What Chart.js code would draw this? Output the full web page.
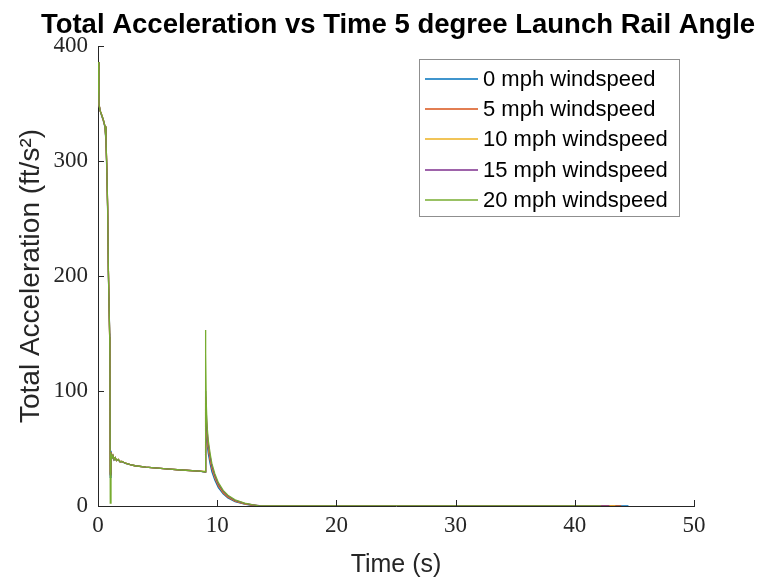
<!DOCTYPE html>
<html>
<head>
<meta charset="utf-8">
<title>Total Acceleration vs Time</title>
<script src="https://cdn.jsdelivr.net/npm/chart.js@4.4.0/dist/chart.umd.min.js"></script>
<style>
  html, body { margin: 0; padding: 0; background: #fff; }
  #accelChart { display: block; }
</style>
</head>
<body>
<canvas id="accelChart" width="765" height="580"></canvas>
<script>
// Flight data, one run per windspeed (time in s, acceleration in ft/s^2)
const chartTitle = 'Total Acceleration vs Time 5 degree Launch Rail Angle';
const seriesLabels = ['0 mph windspeed', '5 mph windspeed', '10 mph windspeed', '15 mph windspeed', '20 mph windspeed'];
const seriesColors = ['#0072BD', '#D95319', '#EDB120', '#7E2F8E', '#77AC30'];

// motor burn + coast, same sample times for every run
const burnTime = [0, 0.08, 0.17, 0.31, 0.45, 0.59, 0.67, 0.73, 0.81, 0.87, 0.98, 1.0, 1.03, 1.09, 1.15, 1.25, 1.35, 1.45, 1.55, 1.7, 1.85, 2.0, 2.3, 2.7, 3.1, 4.0, 5.0, 6.0, 7.0, 8.5];
const burnAccel0  = [386, 350, 344, 339, 335, 329, 316, 295, 256, 203, 150, 126, 25, 48, 41, 43.5, 40, 41.5, 39.5, 40, 38.5, 38.6, 37.1, 36, 35, 33.8, 32.9, 32.1, 31.3, 30.3];
const burnAccel5  = [386, 350, 344, 340, 335, 330, 317, 297, 258, 207, 146, 138, 28, 47, 41.5, 44, 40.5, 41.8, 39.5, 40.3, 38.5, 38.7, 37.2, 36, 35, 33.8, 32.9, 32.1, 31.3, 30.4];
const burnAccel10 = [386, 350, 344, 340, 336, 330, 318, 298, 259, 205, 147, 130, 30, 46, 41.5, 44, 40.5, 42, 39.5, 40.5, 38.5, 38.8, 37.2, 36, 35, 33.8, 32.9, 32.1, 31.3, 30.4];
const burnAccel15 = [386, 350, 344, 340, 336, 330, 318, 298, 260, 205, 147, 128, 27, 46, 41.5, 44, 40.5, 42, 39.5, 40.5, 38.5, 38.8, 37.2, 36, 35, 33.8, 32.9, 32.1, 31.3, 30.4];
const burnAccel20 = [386, 350, 344, 340, 336, 330, 318, 298, 260, 205, 147, 127, 2.6, 46, 41.5, 44, 40.5, 42, 39.5, 40.5, 38.5, 38.8, 37.2, 36, 35, 33.8, 32.9, 32.1, 31.3, 30.4];

// deployment spike and decay, per run
const spikeTime0  = [9.0, 9.03, 9.08, 9.15, 9.25, 9.4, 9.55, 9.8, 10.1, 10.5, 10.9, 11.5, 12.3, 12.9, 13.3];
const spikeAccel0 = [29.5, 85, 68, 55, 46, 37, 30, 22.5, 16, 10.5, 7, 3.8, 1.6, 0.6, 0];
const spikeTime5  = [9.0, 9.03, 9.08, 9.15, 9.25, 9.4, 9.55, 9.8, 10.1, 10.5, 10.9, 11.5, 12.3, 12.9, 13.45];
const spikeAccel5 = [29.6, 95, 78, 62, 50, 40, 32.5, 24.5, 17.5, 11.5, 7.7, 4.3, 1.9, 0.8, 0];
const spikeTime10  = [9.0, 9.03, 9.08, 9.15, 9.25, 9.4, 9.55, 9.8, 10.1, 10.5, 10.9, 11.5, 12.3, 12.9, 13.4, 13.65];
const spikeAccel10 = [30, 90, 75, 63, 52, 42, 34, 25.5, 18.3, 12.2, 8.2, 4.6, 2.1, 1.0, 0.3, 0];
const spikeTime15  = [9.0, 9.03, 9.08, 9.15, 9.25, 9.4, 9.55, 9.8, 10.1, 10.5, 10.9, 11.5, 12.3, 12.9, 13.7];
const spikeAccel15 = [29.7, 100, 82, 66, 54, 43.5, 35, 26.5, 19, 12.8, 8.7, 4.9, 2.3, 1.1, 0];
const spikeTime20  = [9.0, 9.02, 9.04, 9.08, 9.15, 9.25, 9.4, 9.55, 9.8, 10.1, 10.5, 10.9, 11.5, 12.3, 12.9, 13.4, 13.8];
const spikeAccel20 = [29.8, 153, 133, 90, 70, 57, 46, 37, 28, 20.3, 13.6, 9.3, 5.3, 2.5, 1.2, 0.4, 0];

// time the last sample was logged for each run
const endTimes = [44.5, 43.9, 43.4, 42.9, 42.2];

const burnAccels = [burnAccel0, burnAccel5, burnAccel10, burnAccel15, burnAccel20];
const spikeTimes = [spikeTime0, spikeTime5, spikeTime10, spikeTime15, spikeTime20];
const spikeAccels = [spikeAccel0, spikeAccel5, spikeAccel10, spikeAccel15, spikeAccel20];

function buildPoints(i) {
    const pts = burnTime.map((t, k) => ({ x: t, y: burnAccels[i][k] }));
    spikeTimes[i].forEach((t, k) => pts.push({ x: t, y: spikeAccels[i][k] }));
    pts.push({ x: endTimes[i], y: 0 });
    return pts;
}

const datasets = seriesLabels.map((label, i) => ({
    label: label,
    data: buildPoints(i),
    borderColor: seriesColors[i],
    backgroundColor: seriesColors[i],
    borderWidth: 1.3,
    pointRadius: 0,
    tension: 0,
    fill: false,
    order: seriesLabels.length - 1 - i   // later runs drawn on top
}));

const axisColor = '#262626';

// title centred over the plot area
const centredTitle = {
    id: 'centredTitle',
    afterDraw(chart) {
        const { ctx, chartArea } = chart;
        ctx.save();
        ctx.font = 'bold 27.5px "Liberation Sans", Arial, sans-serif';
        ctx.fillStyle = '#000';
        ctx.textAlign = 'center';
        ctx.textBaseline = 'middle';
        ctx.fillText(chartTitle, (chartArea.left + chartArea.right) / 2 + 2, 25);
        ctx.restore();
    }
};

// short tick marks pointing into the plot
const inwardTicks = {
    id: 'inwardTicks',
    afterDatasetsDraw(chart) {
        const { ctx, chartArea, scales: { x, y } } = chart;
        ctx.save();
        ctx.strokeStyle = axisColor;
        ctx.lineWidth = 1;
        ctx.beginPath();
        x.ticks.forEach(t => {
            const px = Math.round(x.getPixelForValue(t.value)) + 0.5;
            ctx.moveTo(px, chartArea.bottom);
            ctx.lineTo(px, chartArea.bottom - 6);
        });
        y.ticks.forEach(t => {
            const py = Math.round(y.getPixelForValue(t.value)) + 0.5;
            ctx.moveTo(chartArea.left, py);
            ctx.lineTo(chartArea.left + 6, py);
        });
        ctx.stroke();
        ctx.restore();
    }
};

// boxed legend in the upper right of the plot
const boxLegend = {
    id: 'boxLegend',
    afterDatasetsDraw(chart) {
        const { ctx } = chart;
        const left = 419, top = 59, width = 260, rowH = 30.2;
        const sets = chart.data.datasets;
        const height = rowH * sets.length + 6;
        ctx.save();
        ctx.fillStyle = '#fff';
        ctx.fillRect(left, top, width, height);
        ctx.strokeStyle = '#8f8f8f';
        ctx.lineWidth = 1;
        ctx.strokeRect(left + 0.5, top + 0.5, width, height);
        ctx.font = '22px "Liberation Sans", Arial, sans-serif';
        ctx.textBaseline = 'middle';
        ctx.textAlign = 'left';
        ctx.lineWidth = 1.5;
        sets.forEach((ds, i) => {
            const cy = top + 20 + i * rowH;
            ctx.strokeStyle = ds.borderColor;
            ctx.beginPath();
            ctx.moveTo(left + 6, Math.round(cy));
            ctx.lineTo(left + 59, Math.round(cy));
            ctx.stroke();
            ctx.fillStyle = '#000';
            ctx.fillText(ds.label, left + 64, cy + 1);
        });
        ctx.restore();
    }
};

const tickFont = { family: '"Liberation Serif", "DejaVu Serif", serif', size: 23 };

new Chart(document.getElementById('accelChart'), {
    type: 'line',
    data: { datasets: datasets },
    options: {
        responsive: false,
        animation: false,
        events: [],
        layout: { padding: { top: 46, right: 71, bottom: 0, left: 0 } },
        plugins: {
            legend: { display: false },
            tooltip: { enabled: false },
            title: { display: false }
        },
        scales: {
            x: {
                type: 'linear',
                min: 0,
                max: 50,
                ticks: { stepSize: 10, color: axisColor, font: tickFont, padding: 6, maxRotation: 0 },
                grid: { display: false, drawTicks: false },
                border: { display: true, color: axisColor, width: 1 },
                title: {
                    display: true,
                    text: 'Time (s)',
                    color: axisColor,
                    font: { family: '"Liberation Sans", Arial, sans-serif', size: 25 },
                    padding: { top: 0, bottom: 0 }
                },
                afterFit(scale) { scale.height = 74; }
            },
            y: {
                min: 0,
                max: 400,
                ticks: { stepSize: 100, color: axisColor, font: tickFont, padding: 10 },
                grid: { display: false, drawTicks: false },
                border: { display: true, color: axisColor, width: 1 },
                title: {
                    display: true,
                    text: 'Total Acceleration (ft/s²)',
                    color: axisColor,
                    font: { family: '"Liberation Sans", Arial, sans-serif', size: 28 },
                    padding: { top: 14, bottom: 0 }
                },
                afterFit(scale) { scale.width = 98; }
            }
        }
    },
    plugins: [centredTitle, inwardTicks, boxLegend]
});
</script>
</body>
</html>
